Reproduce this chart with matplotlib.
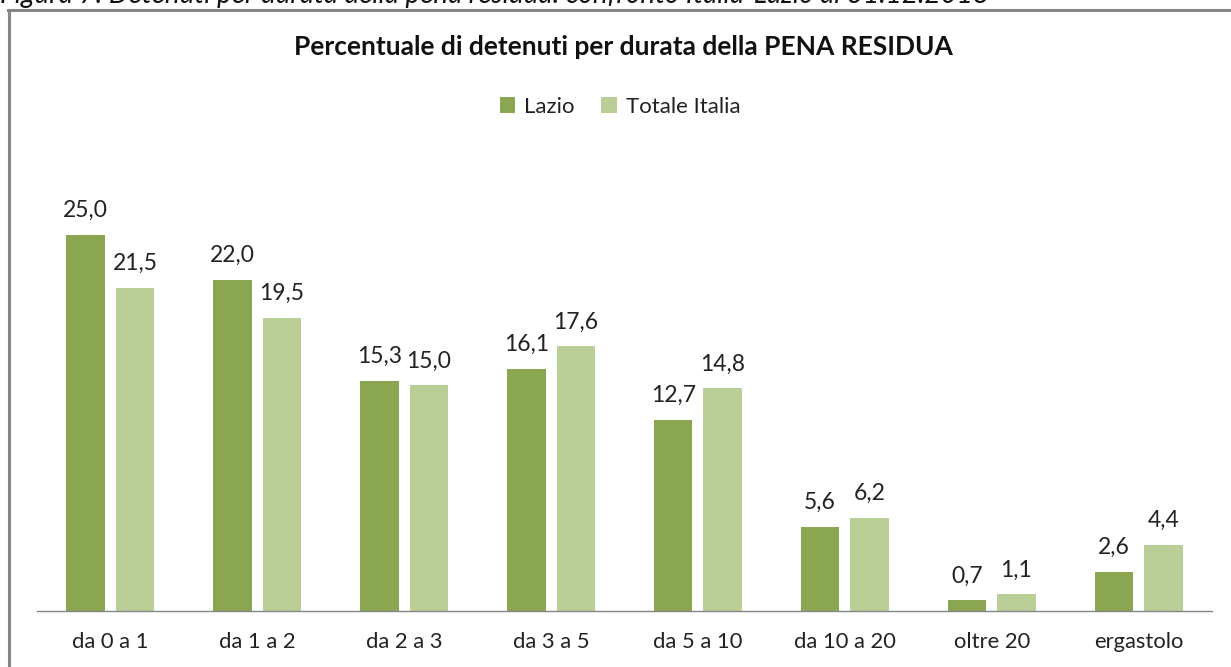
import matplotlib
matplotlib.use("Agg")
import matplotlib.pyplot as plt
from matplotlib.lines import Line2D
import numpy as np

categories = ["da 0 a 1", "da 1 a 2", "da 2 a 3", "da 3 a 5", "da 5 a 10", "da 10 a 20", "oltre 20", "ergastolo"]
lazio = [25.0, 22.0, 15.3, 16.1, 12.7, 5.6, 0.7, 2.6]
italia = [21.5, 19.5, 15.0, 17.6, 14.8, 6.2, 1.1, 4.4]
series_names = ["Lazio", "Totale Italia"]
title = "Percentuale di detenuti per durata della PENA RESIDUA"
caption = "Figura 7: Detenuti per durata della pena residua: confronto Italia-Lazio al 31.12.2018"

c_lazio = "#8BA650"
c_italia = "#BACF98"
font = "Lato"

W, H = 1231, 667
fig = plt.figure(figsize=(W / 100, H / 100), dpi=100)
fig.patch.set_facecolor("white")

ax = fig.add_axes([37 / W, 1 - 611 / H, (1212 - 37) / W, (611 - 159.8) / H])
x = np.arange(len(categories))
w = 0.262
g = 0.075
off = (w + g) / 2
b1 = ax.bar(x - off, lazio, w, color=c_lazio, label=series_names[0])
b2 = ax.bar(x + off, italia, w, color=c_italia, label=series_names[1])
ax.set_xlim(-0.5, len(categories) - 0.5)
ax.set_ylim(0, 30)
for s in ["top", "right", "left"]:
    ax.spines[s].set_visible(False)
ax.spines["bottom"].set_color("#868686")
ax.spines["bottom"].set_linewidth(1.0)
ax.set_yticks([])
ax.set_xticks(x)
ax.set_xticklabels(categories, fontfamily=font, fontsize=15.8, color="#222222")
ax.tick_params(axis="x", length=0, pad=15)

for bars, vals in ((b1, lazio), (b2, italia)):
    for r, v in zip(bars, vals):
        ax.annotate(f"{v:.1f}".replace(".", ","), (r.get_x() + r.get_width() / 2, r.get_height()),
                    xytext=(0, 10), textcoords="offset points", ha="center", va="bottom",
                    fontfamily=font, fontsize=16.5, color="#222222")

fig.text(623 / W, 1 - 47 / H, title, ha="center", va="center", fontfamily=font,
         fontsize=19, fontweight="bold", color="#111111")

leg = fig.legend(handles=[b1, b2], labels=series_names, loc="center",
                 bbox_to_anchor=(620 / W, 1 - 107 / H), ncol=2, frameon=False,
                 prop={"family": font, "size": 16}, handlelength=0.7, handleheight=0.7,
                 handletextpad=0.4, columnspacing=1.2)
for t in leg.get_texts():
    t.set_color("#222222")

fig.text(0 / W, 1 - 3 / H, caption, ha="left", va="baseline", fontfamily=font,
         fontsize=20, fontstyle="italic", color="#111111")

fig.add_artist(Line2D([8 / W, 1.0], [1 - 10 / H, 1 - 10 / H], transform=fig.transFigure,
                      color="#868686", linewidth=2.2))
fig.add_artist(Line2D([9 / W, 9 / W], [0.0, 1 - 10 / H], transform=fig.transFigure,
                      color="#868686", linewidth=2.2))

fig.savefig("out.png", dpi=100)
